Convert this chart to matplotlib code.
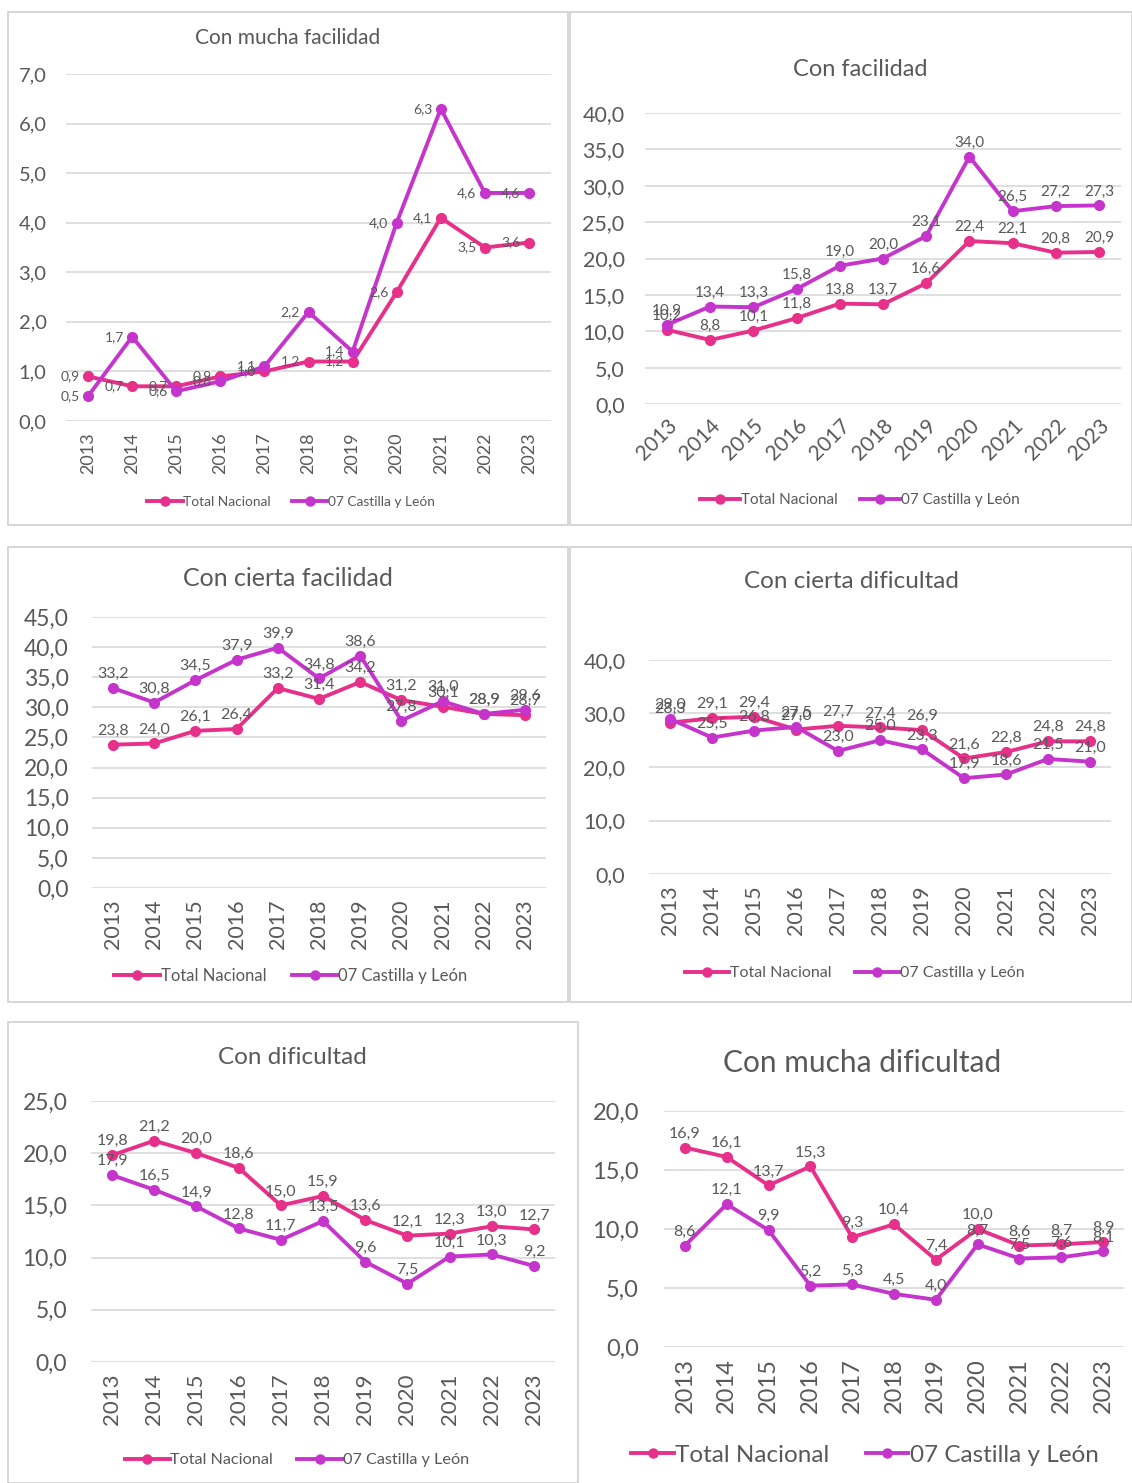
import matplotlib
matplotlib.use("Agg")
import matplotlib.pyplot as plt
from matplotlib.patches import Rectangle
from matplotlib.lines import Line2D

plt.rcParams['font.family'] = ['Lato', 'DejaVu Sans']

years = ["2013", "2014", "2015", "2016", "2017", "2018", "2019", "2020", "2021", "2022", "2023"]
series_names = ["Total Nacional", "07 Castilla y León"]

titles = ["Con mucha facilidad", "Con facilidad", "Con cierta facilidad",
          "Con cierta dificultad", "Con dificultad", "Con mucha dificultad"]

mucha_fac_nac = [0.9, 0.7, 0.7, 0.9, 1.0, 1.2, 1.2, 2.6, 4.1, 3.5, 3.6]
mucha_fac_cyl = [0.5, 1.7, 0.6, 0.8, 1.1, 2.2, 1.4, 4.0, 6.3, 4.6, 4.6]
fac_nac = [10.2, 8.8, 10.1, 11.8, 13.8, 13.7, 16.6, 22.4, 22.1, 20.8, 20.9]
fac_cyl = [10.9, 13.4, 13.3, 15.8, 19.0, 20.0, 23.1, 34.0, 26.5, 27.2, 27.3]
cierta_fac_nac = [23.8, 24.0, 26.1, 26.4, 33.2, 31.4, 34.2, 31.2, 30.1, 28.9, 28.7]
cierta_fac_cyl = [33.2, 30.8, 34.5, 37.9, 39.9, 34.8, 38.6, 27.8, 31.0, 28.9, 29.6]
cierta_dif_nac = [28.3, 29.1, 29.4, 27.0, 27.7, 27.4, 26.9, 21.6, 22.8, 24.8, 24.8]
cierta_dif_cyl = [29.0, 25.5, 26.8, 27.5, 23.0, 25.0, 23.3, 17.9, 18.6, 21.5, 21.0]
dif_nac = [19.8, 21.2, 20.0, 18.6, 15.0, 15.9, 13.6, 12.1, 12.3, 13.0, 12.7]
dif_cyl = [17.9, 16.5, 14.9, 12.8, 11.7, 13.5, 9.6, 7.5, 10.1, 10.3, 9.2]
mucha_dif_nac = [16.9, 16.1, 13.7, 15.3, 9.3, 10.4, 7.4, 10.0, 8.6, 8.7, 8.9]
mucha_dif_cyl = [8.6, 12.1, 9.9, 5.2, 5.3, 4.5, 4.0, 8.7, 7.5, 7.6, 8.1]

PINK = "#E6308A"
PURPLE = "#C535CC"
TXT = "#595959"
GRID = "#D9D9D9"

W, H = 1132, 1483
fig = plt.figure(figsize=(W / 100, H / 100), dpi=100)

def fmt(v):
    return f"{v:.1f}".replace(".", ",")

# panel borders (pixel boxes)
borders = [(8, 12, 568, 525), (570, 12, 1132, 525), (8, 547, 568, 1002),
           (570, 547, 1132, 1002), (8, 1022, 578, 1483)]
for (x0, y0, x1, y1) in borders:
    fig.patches.append(Rectangle((x0 / W, 1 - y1 / H), (x1 - x0) / W, (y1 - y0) / H,
                                 transform=fig.transFigure, fill=False,
                                 edgecolor="#D0D0D0", linewidth=1.2))

panels = [
    dict(data=(mucha_fac_nac, mucha_fac_cyl), box=(66, 74, 551, 421), ymax=7, step=1,
         title_y=38, title_x=288, tfs=15, yfs=14.5, ypad=14, xfs=13, lfs=10, rot=90,
         labpos="left", leg=(291, 502), legfs=9.9, hl=2.6),
    dict(data=(fac_nac, fac_cyl), box=(645.4, 113, 1120.6, 404), ymax=40, step=5,
         title_y=69, title_x=860, tfs=17, yfs=15.5, ypad=15, xfs=15, lfs=11, rot=45,
         labpos="above", leg=(860, 500), legfs=11, hl=2.6),
    dict(data=(cierta_fac_nac, cierta_fac_cyl), box=(92.4, 617, 545.6, 888), ymax=45, step=5,
         title_y=578, title_x=288, tfs=18, yfs=16.5, ypad=17, xfs=15.5, lfs=11.5, rot=90,
         labpos="above", leg=(291, 976), legfs=12, hl=2.75),
    dict(data=(cierta_dif_nac, cierta_dif_cyl), box=(649, 660, 1111, 874), ymax=40, step=10,
         title_y=582, title_x=851, tfs=17.5, yfs=15.5, ypad=17, xfs=15.5, lfs=11.5, rot=90,
         labpos="above", leg=(855, 973), legfs=11.5, hl=2.75),
    dict(data=(dif_nac, dif_cyl), box=(90.9, 1101, 555.1, 1362), ymax=25, step=5,
         title_y=1057, title_x=292, tfs=17.5, yfs=16.5, ypad=17, xfs=16, lfs=11.5, rot=90,
         labpos="above", leg=(297, 1460), legfs=11.7, hl=2.75),
    dict(data=(mucha_dif_nac, mucha_dif_cyl), box=(664, 1111, 1124, 1347), ymax=20, step=5,
         title_y=1063, title_x=862, tfs=21.5, yfs=17, ypad=18, xfs=17, lfs=11.5, rot=90,
         labpos="above", leg=(865, 1455), legfs=17.5, hl=1.75),
]

for i, p in enumerate(panels):
    x0, yt, x1, yb = p["box"]
    ax = fig.add_axes([x0 / W, 1 - yb / H, (x1 - x0) / W, (yb - yt) / H])
    xs = list(range(len(years)))
    nac, cyl = p["data"]
    for vals, col in ((nac, PINK), (cyl, PURPLE)):
        ax.plot(xs, vals, color=col, lw=2.8, marker="o", ms=7, solid_capstyle="round",
                zorder=3)
        for x, v in zip(xs, vals):
            if p["labpos"] == "left":
                ax.annotate(fmt(v), (x, v), xytext=(-6, 0), textcoords="offset points",
                            ha="right", va="center", fontsize=p["lfs"], color=TXT, zorder=4)
            else:
                ax.annotate(fmt(v), (x, v), xytext=(0, 5), textcoords="offset points",
                            ha="center", va="bottom", fontsize=p["lfs"], color=TXT, zorder=4)
    ax.set_xlim(-0.5, len(years) - 0.5)
    ax.set_ylim(0, p["ymax"])
    ticks = [k * p["step"] for k in range(int(p["ymax"] / p["step"]) + 1)]
    ax.set_yticks(ticks)
    ax.set_yticklabels([fmt(t) for t in ticks], fontsize=p["yfs"], color=TXT)
    ax.set_xticks(xs)
    if p["rot"] == 45:
        ax.set_xticklabels(years, rotation=45, ha="right", rotation_mode="anchor",
                           fontsize=p["xfs"], color=TXT)
    else:
        ax.set_xticklabels(years, rotation=90, fontsize=p["xfs"], color=TXT)
    ax.tick_params(axis="y", length=0, pad=p["ypad"])
    ax.tick_params(axis="x", length=0, pad=8)
    for s in ax.spines.values():
        s.set_visible(False)
    ax.grid(axis="y", color=GRID, lw=1.2)
    ax.set_axisbelow(True)
    ax.patch.set_alpha(0)
    fig.text(p["title_x"] / W, 1 - p["title_y"] / H, titles[i], ha="center", va="center",
             fontsize=p["tfs"], color=TXT)
    handles = [Line2D([], [], color=PINK, lw=2.8, marker="o", ms=6.5),
               Line2D([], [], color=PURPLE, lw=2.8, marker="o", ms=6.5)]
    lx, ly = p["leg"]
    fig.legend(handles, series_names, loc="center", bbox_to_anchor=(lx / W, 1 - ly / H),
               ncol=2, frameon=False, fontsize=p["legfs"], labelcolor=TXT,
               handlelength=p["hl"], handletextpad=0.05, columnspacing=1.5)

fig.savefig("out.png", dpi=100)
